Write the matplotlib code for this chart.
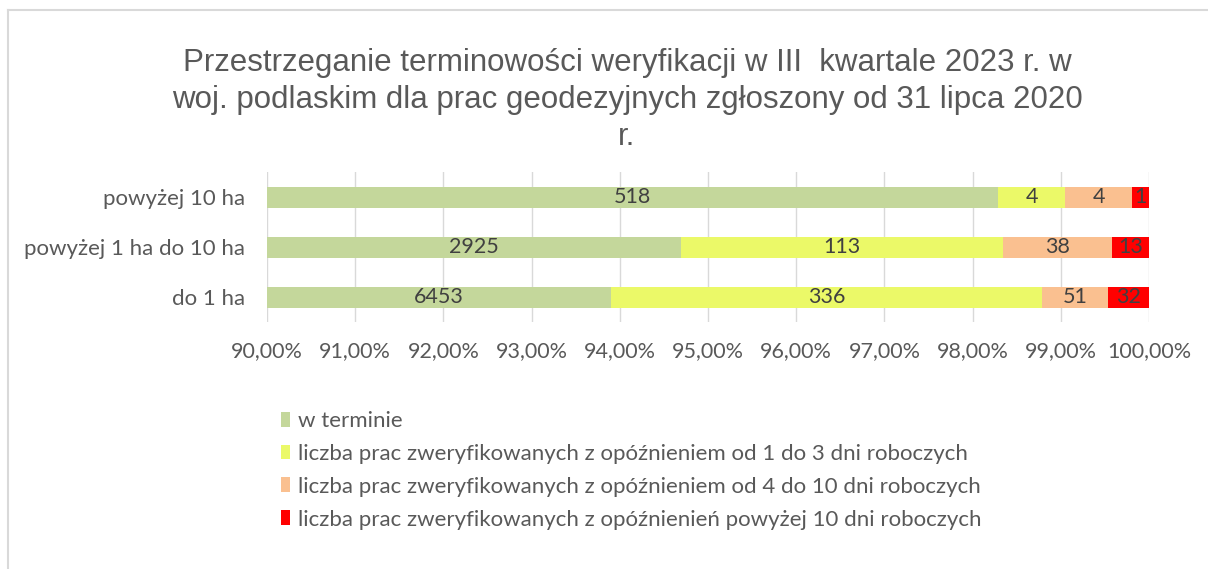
import matplotlib
matplotlib.use("Agg")
import matplotlib.pyplot as plt
import numpy as np
from matplotlib.lines import Line2D
from matplotlib.ticker import FuncFormatter

categories = ["do 1 ha", "powyżej 1 ha do 10 ha", "powyżej 10 ha"]
w_terminie = [6453, 2925, 518]
op_1_3 = [336, 113, 4]
op_4_10 = [51, 38, 4]
op_10_plus = [32, 13, 1]
series_names = ["w terminie",
                "liczba prac zweryfikowanych z opóźnieniem od 1 do 3 dni roboczych",
                "liczba prac zweryfikowanych z opóźnieniem od 4 do 10 dni roboczych",
                "liczba prac zweryfikowanych z opóźnienień powyżej 10 dni roboczych"]
colors = ["#C4D79B", "#EBF968", "#FAC090", "#FF0000"]
title = "Przestrzeganie terminowości weryfikacji w III  kwartale 2023 r. w\nwoj. podlaskim dla prac geodezyjnych zgłoszony od 31 lipca 2020\nr."

text_color = "#595959"
font = ["Lato", "DejaVu Sans"]

fig = plt.figure(figsize=(12.08, 5.69), dpi=100)
ax = fig.add_axes([267/1208, 1-322/569, (1149-267)/1208, 150/569])

data = np.array([w_terminie, op_1_3, op_4_10, op_10_plus], dtype=float)
totals = data.sum(axis=0)
shares = data / totals
y = np.arange(len(categories))
left = np.zeros(len(categories))
for i in range(4):
    bars = ax.barh(y, shares[i], left=left, height=0.42, color=colors[i],
                   label=series_names[i], zorder=2)
    for j, b in enumerate(bars):
        xc = left[j] + shares[i][j] / 2
        if i == 0:
            xc = 0.9 + (left[j] + shares[i][j] - 0.9) / 2
        ax.text(xc, y[j], f"{int(data[i][j])}", ha="center", va="center",
                fontsize=15.5, color="#404040", family=font, zorder=3)
    left += shares[i]

ax.set_xlim(0.9, 1.0)
ax.set_ylim(-0.5, 2.5)
ax.set_xticks(np.arange(0.90, 1.0001, 0.01))
ax.xaxis.set_major_formatter(FuncFormatter(lambda v, p: f"{v*100:.2f}%".replace(".", ",")))
ax.set_yticks(y)
ax.set_yticklabels(categories)
for lab in ax.get_xticklabels():
    lab.set_family(font)
    lab.set_fontsize(15.5)
    lab.set_color(text_color)
for lab in ax.get_yticklabels():
    lab.set_family(font)
    lab.set_fontsize(16)
    lab.set_color(text_color)
ax.tick_params(axis="both", length=0)
ax.tick_params(axis="x", pad=14)
ax.tick_params(axis="y", pad=16)
ax.grid(axis="x", color="#D9D9D9", linewidth=1, zorder=0)
for s in ax.spines.values():
    s.set_visible(False)

fig.text(627/1208, 1-100/569, title, ha="center", va="center", fontsize=22.5,
         color=text_color, family=["Liberation Sans", "DejaVu Sans"],
         linespacing=1.32)

fig.legend(loc="upper left", bbox_to_anchor=(272/1208, 1-402/569), frameon=False,
           handlelength=0.42, handleheight=0.65, handletextpad=0.35,
           labelspacing=0.58, prop={"family": font, "size": 16},
           labelcolor=text_color, borderaxespad=0)

fig.add_artist(Line2D([8/1208, 1], [1-10/569, 1-10/569], transform=fig.transFigure,
                      color="#D9D9D9", linewidth=1.5))
fig.add_artist(Line2D([8/1208, 8/1208], [0, 1-10/569], transform=fig.transFigure,
                      color="#D9D9D9", linewidth=1.5))

fig.savefig("out.png", dpi=100)
